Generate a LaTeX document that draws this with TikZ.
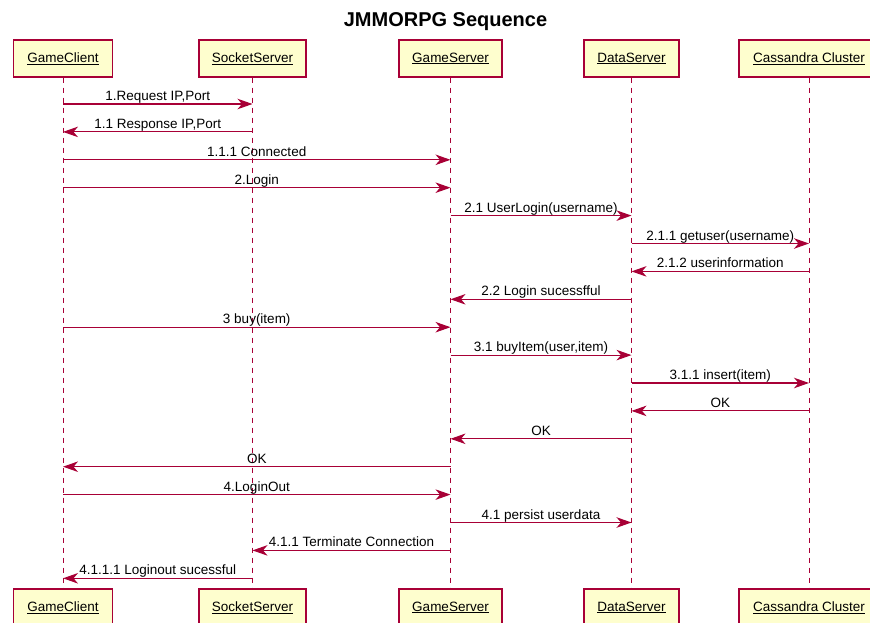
\documentclass[tikz,border=0pt]{standalone}
\usepackage{fontspec}
\setmainfont{Liberation Sans}
\usetikzlibrary{arrows.meta}
\definecolor{umlred}{HTML}{A80036}
\definecolor{umlfill}{HTML}{FEFECE}
\tikzset{
  actorbox/.style={draw=umlred, fill=umlfill, line width=1.3pt, minimum height=37pt,
    inner sep=0pt, font=\fontsize{13.5}{16}\selectfont},
  lifeline/.style={draw=umlred, line width=1pt, dash pattern=on 5pt off 5pt},
  msgline/.style={draw=umlred, line width=1.1pt,
    -{Stealth[length=15pt,width=10.5pt,inset=4.5pt]}},
  msglabel/.style={midway, anchor=base, yshift=3.5pt, inner sep=0pt,
    font=\fontsize{13.5}{16}\selectfont, text=black},
  titletext/.style={anchor=base, font=\bfseries\fontsize{20}{24}\selectfont},
}
% one message between two lifelines at height #3
\newcommand\seqmsg[4]{%
  \draw[msgline] (#1Top |- 0,#3) -- node[msglabel]{#4} (#2Top |- 0,#3);}

\begin{document}
\begin{tikzpicture}[x=1pt,y=-1pt]
\useasboundingbox (0,0) rectangle (870,623);
\fill[white] (0,0) rectangle (870,623);
\clip (0,0) rectangle (870,623);

\node[titletext] (title) at (445.5,27) {JMMORPG Sequence};

% participants (head and foot) with their lifelines
\foreach \id/\cx/\w/\name in {gc/63/99/GameClient, ss/252.5/107/SocketServer,
    gs/450.5/103/GameServer, ds/631.5/95/DataServer, cc/809/140/Cassandra Cluster} {
  \node[actorbox, minimum width=\w pt] (\id Top) at (\cx,58.5) {\underline{\name}};
  \node[actorbox, minimum width=\w pt] (\id Bot) at (\cx,607.5) {\underline{\name}};
  \draw[lifeline] (\id Top.south) -- (\id Bot.north);
}

% messages
\seqmsg{gc}{ss}{104}{1.Request IP,Port}
\seqmsg{ss}{gc}{131.9}{1.1 Response IP,Port}
\seqmsg{gc}{gs}{159.8}{1.1.1 Connected}
\seqmsg{gc}{gs}{187.7}{2.Login}
\seqmsg{gs}{ds}{215.6}{2.1 UserLogin(username)}
\seqmsg{ds}{cc}{243.5}{2.1.1 getuser(username)}
\seqmsg{cc}{ds}{271.4}{2.1.2 userinformation}
\seqmsg{ds}{gs}{299.3}{2.2 Login sucessfful}
\seqmsg{gc}{gs}{327.2}{3 buy(item)}
\seqmsg{gs}{ds}{355.1}{3.1 buyItem(user,item)}
\seqmsg{ds}{cc}{383}{3.1.1 insert(item)}
\seqmsg{cc}{ds}{410.9}{OK}
\seqmsg{ds}{gs}{438.8}{OK}
\seqmsg{gs}{gc}{466.7}{OK}
\seqmsg{gc}{gs}{494.6}{4.LoginOut}
\seqmsg{gs}{ds}{522.5}{4.1 persist userdata}
\seqmsg{gs}{ss}{550.4}{4.1.1 Terminate Connection}
\seqmsg{ss}{gc}{578.3}{4.1.1.1 Loginout sucessful}
\end{tikzpicture}
\end{document}
